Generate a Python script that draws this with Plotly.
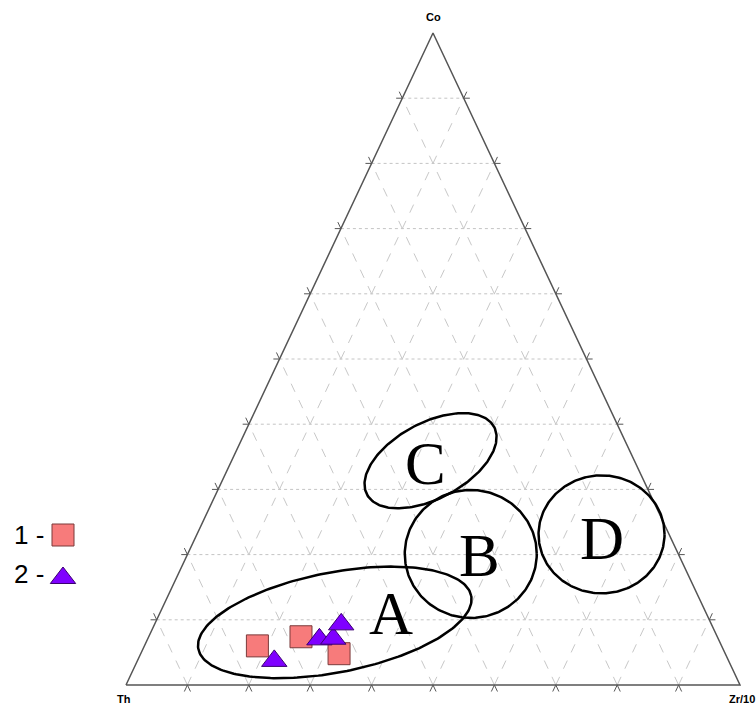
import numpy as np
import plotly.graph_objects as go

# ---- data (percent: Co, Th, Zr/10) ----
group1_co = [6.0, 7.4, 4.8]
group1_th = [75.6, 67.8, 62.9]
group1_zr = [18.4, 24.8, 32.3]

group2_co = [3.7, 7.0, 7.1, 9.3]
group2_th = [74.0, 65.0, 62.7, 60.3]
group2_zr = [22.3, 28.0, 30.2, 30.4]

# field outlines: centre composition (Co, Th, Zr/10), semi-axes (px), tilt (deg)
field_names = ["A", "B", "C", "D"]
field_co = [9.6, 20.1, 34.4, 23.1]
field_th = [61.2, 33.8, 33.2, 11.0]
field_zr = [29.2, 46.1, 32.4, 65.9]
field_a = [139, 66, 72, 63]
field_b = [50, 64, 38, 59]
field_tilt = [11, 0, 28, 0]

# label anchor compositions for the field letters
label_co = [11.0, 19.9, 33.9, 22.4]
label_th = [51.4, 32.4, 34.2, 11.3]
label_zr = [37.6, 47.7, 31.9, 66.3]

grid_steps = [10, 20, 30, 40, 50, 60, 70, 80, 90]

# ---- page geometry ----
W, H = 756, 708
BASE_PX = 614      # triangle base length on the page
HEIGHT_PX = 652    # triangle height on the page
LEFT_PX = 126      # Th corner x
BOTTOM_PX = 685    # baseline y (from top)


def tern(co, th, zr):
    co = np.asarray(co, float) / 100.0
    zr = np.asarray(zr, float) / 100.0
    return zr + co / 2.0, co


x_range = [-LEFT_PX / BASE_PX, (W - LEFT_PX) / BASE_PX]
y_range = [-(H - BOTTOM_PX) / HEIGHT_PX, BOTTOM_PX / HEIGHT_PX]

fig = go.Figure()

# grid lines
EXT = 1.0  # tick extension beyond the edges, percent
hx, hy, dx_, dy_, tx, ty = [], [], [], [], [], []
for k in grid_steps:
    # Co = const (horizontal)
    x, y = tern([k, k], [100 - k, 0], [0, 100 - k])
    hx += list(x) + [None]; hy += list(y) + [None]
    x, y = tern([k, k], [100 - k + EXT, -EXT], [-EXT, 100 - k + EXT])
    tx += [x[0], tern(k, 100 - k, 0)[0], None, tern(k, 0, 100 - k)[0], x[1], None]
    ty += [y[0], k / 100, None, k / 100, y[1], None]
    # Zr = const
    x, y = tern([0, 100 - k], [100 - k, 0], [k, k])
    dx_ += list(x) + [None]; dy_ += list(y) + [None]
    xe, ye = tern([-EXT, 100 - k + EXT], [100 - k + EXT, -EXT], [k, k])
    tx += [xe[0], x[0], None, x[1], xe[1], None]
    ty += [ye[0], y[0], None, y[1], ye[1], None]
    # Th = const
    x, y = tern([0, 100 - k], [k, k], [100 - k, 0])
    dx_ += list(x) + [None]; dy_ += list(y) + [None]
    xe, ye = tern([-EXT, 100 - k + EXT], [k, k], [100 - k + EXT, -EXT])
    tx += [xe[0], x[0], None, x[1], xe[1], None]
    ty += [ye[0], y[0], None, y[1], ye[1], None]

fig.add_trace(go.Scatter(x=hx, y=hy, mode="lines", hoverinfo="skip",
                         line=dict(color="#c4c4c4", width=1, dash="dot")))
fig.add_trace(go.Scatter(x=dx_, y=dy_, mode="lines", hoverinfo="skip",
                         line=dict(color="#c8c8c8", width=1, dash="dash")))
fig.add_trace(go.Scatter(x=tx, y=ty, mode="lines", hoverinfo="skip",
                         line=dict(color="#555555", width=1)))

# triangle frame
fx, fy = tern([0, 100, 0, 0], [100, 0, 0, 100], [0, 0, 100, 0])
fig.add_trace(go.Scatter(x=fx, y=fy, mode="lines", hoverinfo="skip",
                         line=dict(color="#555555", width=1.5)))

# field outlines
t = np.linspace(0, 2 * np.pi, 240)
for co, th, zr, a, b, ang in zip(field_co, field_th, field_zr, field_a, field_b, field_tilt):
    cx, cy = tern(co, th, zr)
    r = np.radians(ang)
    ox = a * np.cos(t) * np.cos(r) - b * np.sin(t) * np.sin(r)
    oy = a * np.cos(t) * np.sin(r) + b * np.sin(t) * np.cos(r)
    fig.add_trace(go.Scatter(x=cx + ox / BASE_PX, y=cy + oy / HEIGHT_PX, mode="lines",
                             hoverinfo="skip", line=dict(color="black", width=2.5)))

# field letters
lx, ly = tern(label_co, label_th, label_zr)
for name, x, y in zip(field_names, lx, ly):
    fig.add_annotation(x=x, y=y, text=name, showarrow=False,
                       font=dict(family="Liberation Serif, Times New Roman, serif",
                                 size=61, color="black"))

# samples
x1, y1 = tern(group1_co, group1_th, group1_zr)
x2, y2 = tern(group2_co, group2_th, group2_zr)
fig.add_trace(go.Scatter(x=x1, y=y1, mode="markers", name="1",
                         marker=dict(symbol="square", size=22, color="#f77b7b",
                                     line=dict(color="#7a3b3b", width=1))))
fig.add_trace(go.Scatter(x=x2, y=y2, mode="markers", name="2",
                         marker=dict(symbol="triangle-up", size=22, color="#7f00ff",
                                     line=dict(color="#3a0070", width=1))))

# key
key_y1 = (BOTTOM_PX - 535) / HEIGHT_PX
key_y2 = (BOTTOM_PX - 578) / HEIGHT_PX
key_x = (63 - LEFT_PX) / BASE_PX
fig.add_trace(go.Scatter(x=[key_x], y=[key_y1], mode="markers",
                         marker=dict(symbol="square", size=22, color="#f77b7b",
                                     line=dict(color="#7a3b3b", width=1))))
fig.add_trace(go.Scatter(x=[key_x], y=[key_y2], mode="markers",
                         marker=dict(symbol="triangle-up", size=22, color="#7f00ff",
                                     line=dict(color="#3a0070", width=1))))
key_font = dict(family="Liberation Sans, Arial, sans-serif", size=26, color="black")
fig.add_annotation(x=(29 - LEFT_PX) / BASE_PX, y=key_y1, text="1 -", showarrow=False, font=key_font)
fig.add_annotation(x=(29 - LEFT_PX) / BASE_PX, y=(BOTTOM_PX - 574) / HEIGHT_PX,
                   text="2 -", showarrow=False, font=key_font)

# apex labels
apex_font = dict(family="Liberation Sans, Arial, sans-serif", size=11, color="black")
fig.add_annotation(x=0.5, y=(BOTTOM_PX - 17) / HEIGHT_PX, text="<b>Co</b>",
                   showarrow=False, font=apex_font)
fig.add_annotation(x=(124 - LEFT_PX) / BASE_PX, y=(BOTTOM_PX - 699) / HEIGHT_PX,
                   text="<b>Th</b>", showarrow=False, font=apex_font)
fig.add_annotation(x=(742 - LEFT_PX) / BASE_PX, y=(BOTTOM_PX - 699) / HEIGHT_PX,
                   text="<b>Zr/10</b>", showarrow=False, font=apex_font)

fig.update_layout(
    width=W, height=H, margin=dict(l=0, r=0, t=0, b=0),
    paper_bgcolor="white", plot_bgcolor="white", showlegend=False,
    xaxis=dict(range=x_range, visible=False, fixedrange=True),
    yaxis=dict(range=y_range, visible=False, fixedrange=True),
)

fig.write_html("out.html")
